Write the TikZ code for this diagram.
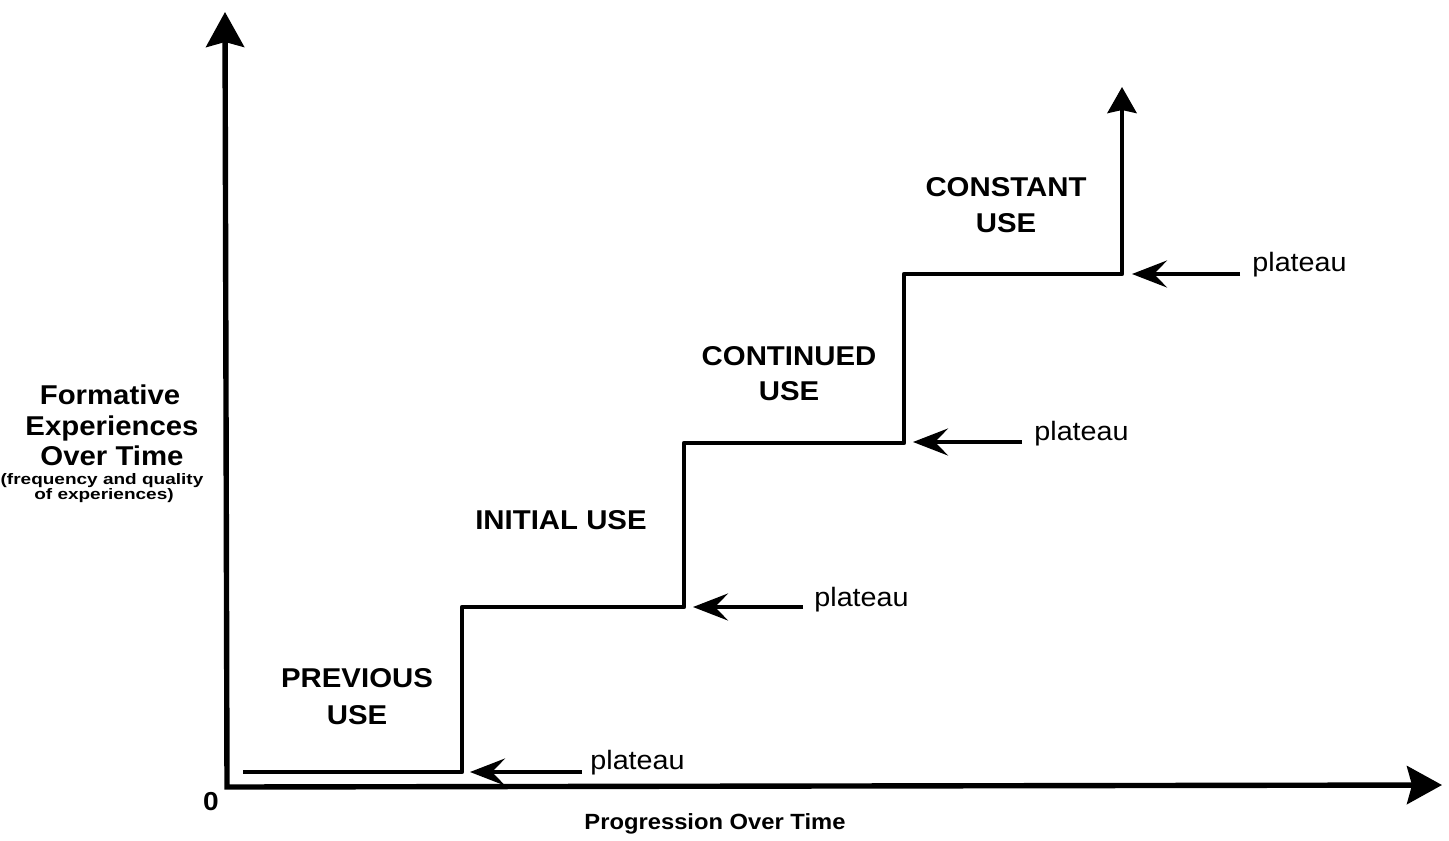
\documentclass[tikz,border=0pt]{standalone}
\usepackage{fontspec}
\newfontfamily\labfont{Liberation Sans}[FakeStretch=1.08]
\newfontfamily\widefont{Liberation Sans}[FakeStretch=1.25]
\usetikzlibrary{arrows.meta}
\begin{document}
\begin{tikzpicture}[x=0.5pt,y=-0.5pt,
  axis/.style={line width=2.7pt, line join=miter,
    arrows={Stealth[length=17.5pt,width=19pt,inset=2.5pt]-Stealth[length=17.5pt,width=19pt,inset=2.5pt]}},
  stairs/.style={line width=2.3pt, line join=round,
    -{Stealth[length=13pt,width=14.5pt,inset=1.5pt]}},
  plat/.style={line width=2pt,
    -{Stealth[length=17.5pt,width=13.5pt,inset=6.5pt]}},
  phase/.style={font=\labfont\bfseries\fontsize{13.6}{16}\selectfont, anchor=base, inner sep=0pt},
  ylab/.style={font=\labfont\bfseries\fontsize{13.6}{16}\selectfont, anchor=base, inner sep=0pt},
  ysmall/.style={font=\widefont\bfseries\fontsize{7.6}{9}\selectfont, anchor=base, inner sep=0pt},
  xlab/.style={font=\labfont\bfseries\fontsize{11}{13}\selectfont, anchor=base, inner sep=0pt},
  note/.style={font=\labfont\fontsize{13.3}{16}\selectfont, anchor=base west, inner sep=0pt}]
\useasboundingbox (0,0) rectangle (1449,840);

% axes
\coordinate (ytop) at (225,12);
\coordinate (origin) at (227,787);
\coordinate (xend) at (1442,785);
\draw[axis] (ytop) -- (origin) -- (xend);

% staircase of plateaus
\coordinate (s0) at (243,772);
\coordinate (s1) at (462,772);
\coordinate (s2) at (462,607);
\coordinate (s3) at (684,607);
\coordinate (s4) at (684,443);
\coordinate (s5) at (904,443);
\coordinate (s6) at (904,274);
\coordinate (s7) at (1122,274);
\coordinate (s8) at (1122,87);
\draw[stairs] (s0) -- (s1) -- (s2) -- (s3) -- (s4) -- (s5) -- (s6) -- (s7) -- (s8);

% plateau pointers
\coordinate (p1tip) at (470,772);  \coordinate (p1tail) at (582,772);
\coordinate (p2tip) at (693,607);  \coordinate (p2tail) at (803,607);
\coordinate (p3tip) at (913,442);  \coordinate (p3tail) at (1022,442);
\coordinate (p4tip) at (1132,274); \coordinate (p4tail) at (1240,274);
\draw[plat] (p1tail) -- (p1tip);
\draw[plat] (p2tail) -- (p2tip);
\draw[plat] (p3tail) -- (p3tip);
\draw[plat] (p4tail) -- (p4tip);
\node[note] (n1) at (590,769) {plateau};
\node[note] (n2) at (814,606) {plateau};
\node[note] (n3) at (1034,440) {plateau};
\node[note] (n4) at (1252,271) {plateau};

% phase labels
\node[phase] (prev1) at (357,687) {PREVIOUS};
\node[phase] (prev2) at (357,724) {USE};
\node[phase] (init) at (561,529) {INITIAL USE};
\node[phase] (cont1) at (789,365) {CONTINUED};
\node[phase] (cont2) at (789,400) {USE};
\node[phase] (const1) at (1006,196) {CONSTANT};
\node[phase] (const2) at (1006,232) {USE};

% axis labels
\node[ylab] (y1) at (110,404) {Formative};
\node[ylab] (y2) at (112,435) {Experiences};
\node[ylab] (y3) at (112,465) {Over Time};
\node[ysmall] (y4) at (102,484) {(frequency and quality};
\node[ysmall] (y5) at (104,499) {of experiences)};
\node[xlab, font=\labfont\bfseries\fontsize{13}{15}\selectfont] (zero) at (211,810) {0};
\node[xlab] (xl) at (715,829) {Progression Over Time};
\end{tikzpicture}
\end{document}
